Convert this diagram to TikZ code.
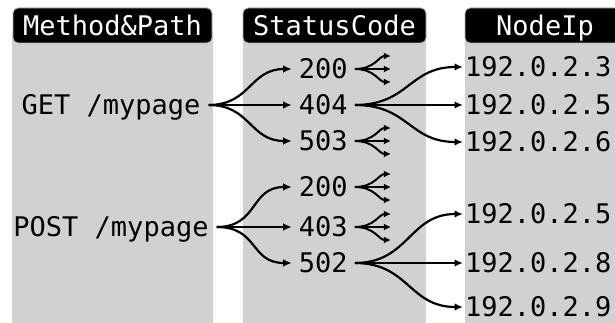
\documentclass[tikz,border=0pt]{standalone}
\usepackage{fontspec}
\newfontfamily\codefont{DejaVu Sans Mono}
\usetikzlibrary{arrows.meta,calc}
\definecolor{panel}{RGB}{209,208,210}
\begin{document}
\begin{tikzpicture}[x=1pt,y=1pt,
  every node/.style={font=\codefont\fontsize{27}{30}\selectfont,
    text height=19.7pt, text depth=0pt, inner ysep=0pt},
  head/.style={fill=black, draw=gray!55, line width=0.8pt, rounded corners=5pt,
    text=white, minimum height=35pt, inner sep=0pt},
  src/.style={inner xsep=8pt},
  code/.style={inner xsep=7pt},
  ip/.style={inner xsep=2pt, anchor=west},
  flow/.style={line width=2.2pt, -{Latex[length=8.5pt,width=7.5pt]}},
  fork/.style={line width=2pt, -{Latex[length=7pt,width=7pt]}}]
\useasboundingbox (0,0) rectangle (615,323);
\clip (0,0) rectangle (615,323);

% column panels
\fill[panel] (12,0) rectangle (213,292);
\fill[panel] (243,0) rectangle (426,292);
\fill[panel] (465,0) rectangle (640,292);

% column headers
\node[head, minimum width=199pt] (h1) at (112.5,297.5) {Method\&Path};
\node[head, minimum width=183pt] (h2) at (334.5,297.5) {StatusCode};
\node[head, minimum width=160pt] (h3) at (545,297.5) {NodeIp};

% requests
\node[src] (get)  at (111,218) {GET /mypage};
\node[src] (post) at (111,96)  {POST /mypage};

% status codes
\node[code] (c200a) at (323.3,254) {200};
\node[code] (c404)  at (323.3,218) {404};
\node[code] (c503)  at (323.3,182) {503};
\node[code] (c200b) at (323.3,136) {200};
\node[code] (c403)  at (323.3,96)  {403};
\node[code] (c502)  at (323.3,60)  {502};

% node addresses
\node[ip] (ip3)  at (463,256) {192.0.2.3};
\node[ip] (ip5a) at (463,218) {192.0.2.5};
\node[ip] (ip6)  at (463,181) {192.0.2.6};
\node[ip] (ip5b) at (463,109) {192.0.2.5};
\node[ip] (ip8)  at (463,60)  {192.0.2.8};
\node[ip] (ip9)  at (463,16)  {192.0.2.9};

% request -> status code
\foreach \s/\t in {get/c200a,get/c404,get/c503,post/c200b,post/c403,post/c502}
  \draw[flow] (\s.east) .. controls +(42,0) and +(-42,0) .. (\t.west);

% status code -> node
\foreach \s/\t in {c404/ip3,c404/ip5a,c404/ip6,c502/ip5b,c502/ip8,c502/ip9}
  \draw[flow] (\s.east) .. controls +(54,0) and +(-54,0) .. (\t.west);

% open forks
\foreach \n in {c200a,c503,c200b,c403} {
  \coordinate (\n-u) at ($(\n.east)+(36,13)$);
  \coordinate (\n-m) at ($(\n.east)+(36,0)$);
  \coordinate (\n-d) at ($(\n.east)+(36,-13)$);
  \draw[fork] (\n.east) .. controls +(20,0) and +(-12,0) .. (\n-u);
  \draw[fork] (\n.east) -- (\n-m);
  \draw[fork] (\n.east) .. controls +(20,0) and +(-12,0) .. (\n-d);
}
\end{tikzpicture}
\end{document}
